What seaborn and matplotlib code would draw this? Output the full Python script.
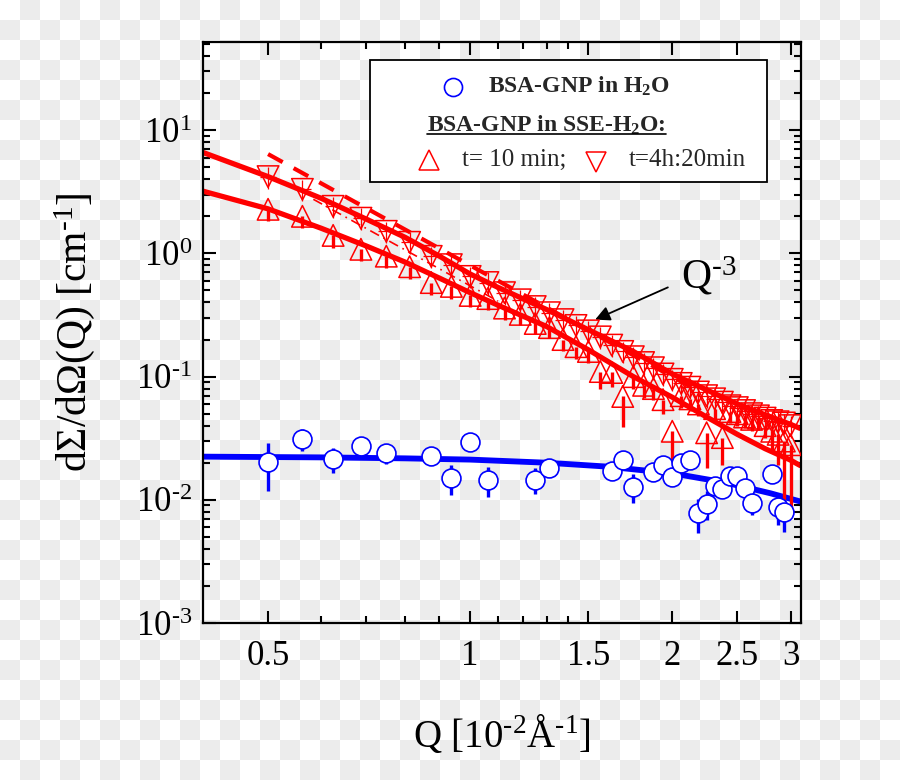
import numpy as np
import matplotlib
matplotlib.use("Agg")
import matplotlib.pyplot as plt
import seaborn as sns
from matplotlib.ticker import FixedLocator, NullFormatter


# DATA

q_h2o = [0.5, 0.5625, 0.625, 0.6875, 0.75, 0.875, 0.9375, 1.0, 1.0625, 1.25,
         1.3125, 1.625, 1.6875, 1.75, 1.875, 1.9375, 2.0, 2.0625, 2.125, 2.1875,
         2.25, 2.3125, 2.375, 2.4375, 2.5, 2.5625, 2.625, 2.8125, 2.875, 2.9375]
i_h2o = [0.0204, 0.0313, 0.0215, 0.0275, 0.0241, 0.0228, 0.0151, 0.0296, 0.0146, 0.0146,
         0.0182, 0.0172, 0.0211, 0.0128, 0.0169, 0.0193, 0.0154, 0.0200, 0.0211, 0.0078,
         0.0093, 0.0130, 0.0123, 0.0157, 0.0157, 0.0125, 0.0095, 0.0163, 0.0088, 0.0080]
e_h2o = [0.0087, 0.0065, 0.0050, 0.0030, 0.0045, 0.0030, 0.0042, 0.0020, 0.0040, 0.0035,
         0.0020, 0.0020, 0.0020, 0.0033, 0.0020, 0.0020, 0.0025, 0.0020, 0.0020, 0.0024,
         0.0025, 0.0020, 0.0020, 0.0020, 0.0020, 0.0020, 0.0020, 0.0025, 0.0025, 0.0025]

q_sse = [0.5, 0.5625, 0.625, 0.6875, 0.75, 0.8125, 0.875, 0.9375, 1.0, 1.0625,
         1.125, 1.1875, 1.25, 1.3125, 1.375, 1.4375, 1.5, 1.5625, 1.625, 1.6875,
         1.75, 1.8125, 1.875, 1.9375, 2.0, 2.0625, 2.125, 2.1875, 2.25, 2.3125,
         2.375, 2.4375, 2.5, 2.5625, 2.625, 2.6875, 2.75, 2.8125, 2.875, 2.9375, 3.0]

# t = 10 min (up triangles)
i_10min = [2.28, 2.0, 1.40, 1.08, 0.95, 0.78, 0.58, 0.54, 0.456, 0.43,
           0.36, 0.32, 0.27, 0.25, 0.20, 0.175, 0.16, 0.11, 0.108, 0.069,
           0.10, 0.085, 0.080, 0.065, 0.036, 0.070, 0.066, 0.060, 0.035, 0.055,
           0.032, 0.052, 0.050, 0.047, 0.045, 0.046, 0.040, 0.036, 0.034, 0.030, 0.028]
e_10min = [0.45, 0.40, 0.30, 0.22, 0.19, 0.16, 0.12, 0.11, 0.09, 0.085,
           0.07, 0.06, 0.05, 0.045, 0.04, 0.035, 0.03, 0.03, 0.025, 0.03,
           0.02, 0.018, 0.016, 0.015, 0.016, 0.014, 0.013, 0.012, 0.017, 0.011,
           0.013, 0.010, 0.010, 0.009, 0.009, 0.009, 0.008, 0.012, 0.015, 0.020, 0.020]

# t = 4h:20min (down triangles)
i_4h20 = [4.2, 3.31, 2.41, 1.93, 1.51, 1.23, 0.946, 0.81, 0.65, 0.58,
          0.48, 0.42, 0.37, 0.33, 0.29, 0.26, 0.235, 0.21, 0.18, 0.16,
          0.145, 0.13, 0.118, 0.105, 0.095, 0.088, 0.082, 0.075, 0.070, 0.066,
          0.062, 0.058, 0.056, 0.053, 0.050, 0.048, 0.046, 0.044, 0.043, 0.042, 0.040]
ey_4h20 = [0.85, 0.66, 0.48, 0.39, 0.30, 0.25, 0.19, 0.16, 0.13, 0.12,
           0.10, 0.085, 0.075, 0.066, 0.058, 0.052, 0.047, 0.042, 0.036, 0.032,
           0.029, 0.026, 0.024, 0.021, 0.019, 0.018, 0.016, 0.015, 0.014, 0.013,
           0.012, 0.012, 0.011, 0.011, 0.010, 0.010, 0.009, 0.009, 0.009, 0.008, 0.008]
ex_4h20 = [0.014, 0.016, 0.018, 0.019, 0.021, 0.023, 0.025, 0.026, 0.028, 0.030,
           0.032, 0.033, 0.035, 0.037, 0.039, 0.040, 0.042, 0.044, 0.046, 0.047,
           0.049, 0.051, 0.053, 0.054, 0.056, 0.058, 0.060, 0.061, 0.063, 0.065,
           0.067, 0.068, 0.070, 0.072, 0.074, 0.075, 0.077, 0.079, 0.081, 0.082, 0.084]

# fitted curves
q_fit_h2o = [0.4, 0.6, 0.8, 1.0, 1.3, 1.6, 2.0, 2.4, 2.8, 3.1]
i_fit_h2o = [0.0224, 0.0221, 0.0217, 0.0212, 0.0200, 0.0186, 0.0164, 0.0138, 0.0113, 0.0097]

q_fit_sse = [0.4, 0.5, 0.6, 0.7, 0.8, 0.9, 1.0, 1.1, 1.3, 1.5, 1.75, 2.0, 2.25, 2.5, 2.75, 3.0, 3.1]
i_fit_10min = [3.2, 2.3, 1.6, 1.15, 0.85, 0.63, 0.48, 0.38, 0.255, 0.165, 0.10, 0.068,
               0.047, 0.034, 0.026, 0.021, 0.019]
i_fit_4h20 = [6.6, 4.2, 2.8, 1.9, 1.35, 0.95, 0.68, 0.53, 0.35, 0.24, 0.16, 0.105,
              0.078, 0.060, 0.049, 0.041, 0.038]

# power-law guides
q_pow3 = [0.5, 2.2]
i_pow3 = [6.4, 0.075]
q_dashdot = [0.584, 1.1]
i_dashdot = [2.75, 0.41]

HY = "\u2010"  # short hyphen, as in the original superscripts
x_ticks = [0.5, 1, 1.5, 2, 2.5, 3]
x_ticklabels = ["0.5", "1", "1.5", "2", "2.5", "3"]
y_ticks = [1e-3, 1e-2, 1e-1, 1e0, 1e1]
y_ticklabels = ["$10^{%s3}$" % HY, "$10^{%s2}$" % HY, "$10^{%s1}$" % HY, "$10^{0}$", "$10^{1}$"]


# STYLE

sns.set_theme(style="ticks")
plt.rcParams["font.family"] = ["Liberation Serif", "DejaVu Serif"]
plt.rcParams["mathtext.fontset"] = "custom"
plt.rcParams["mathtext.rm"] = "Liberation Serif"
plt.rcParams["mathtext.it"] = "Liberation Serif:italic"
plt.rcParams["mathtext.bf"] = "Liberation Serif:bold"
plt.rcParams["mathtext.default"] = "regular"

RED = "#ff0000"
BLUE = "#0000ff"

fig = plt.figure(figsize=(9, 7.8), dpi=100)

# checkerboard background (transparency pattern of the source image)
rows, cols = np.indices((780, 900))
checker = np.where(((rows // 20) + (cols // 20)) % 2 == 1, 236, 255).astype(np.uint8)
fig.figimage(np.dstack([checker] * 3), xo=0, yo=0, origin="upper", zorder=-10)

ax = fig.add_axes([203 / 900, 1 - 623 / 780, 598 / 900, 581 / 780])
ax.set_facecolor("none")
ax.set_xscale("log")
ax.set_yscale("log")


# FIT LINES

sns.lineplot(x=q_fit_h2o, y=i_fit_h2o, ax=ax, color=BLUE, lw=4.2,
             estimator=None, sort=False, zorder=2)
sns.lineplot(x=q_fit_sse, y=i_fit_10min, ax=ax, color=RED, lw=3.8,
             estimator=None, sort=False, zorder=2)
sns.lineplot(x=q_fit_sse, y=i_fit_4h20, ax=ax, color=RED, lw=3.8,
             estimator=None, sort=False, zorder=2)
ax.plot(q_pow3, i_pow3, color=RED, lw=3, dashes=(4, 3), zorder=2)
ax.plot(q_dashdot, i_dashdot, color=RED, lw=1.2, dashes=(6, 3, 1, 3), zorder=2)


# DATA POINTS

ax.errorbar(q_h2o, i_h2o, yerr=e_h2o, fmt="none", ecolor=BLUE, elinewidth=2.4,
            capsize=0, zorder=3)
sns.scatterplot(x=q_h2o, y=i_h2o, ax=ax, marker="o", s=185, facecolor="white",
                edgecolor=BLUE, linewidth=1.2, zorder=4)

ax.errorbar(q_sse, i_10min, yerr=[e_10min, [0] * len(e_10min)], fmt="none",
            ecolor=RED, elinewidth=2.4, capsize=0, zorder=3)
sns.scatterplot(x=q_sse, y=i_10min, ax=ax, marker="^", s=240, facecolor="none",
                edgecolor=RED, linewidth=1.1, zorder=4)

ax.errorbar(q_sse, i_4h20, yerr=ey_4h20, xerr=ex_4h20, fmt="none",
            ecolor=RED, elinewidth=0.9, capsize=0, zorder=3)
sns.scatterplot(x=q_sse, y=i_4h20, ax=ax, marker="v", s=240, facecolor="none",
                edgecolor=RED, linewidth=1.1, zorder=4)


# AXES

ax.set_xlim(0.4, 3.11)
ax.set_ylim(1e-3, 52)

ax.xaxis.set_major_locator(FixedLocator(x_ticks))
ax.set_xticklabels(x_ticklabels)
ax.xaxis.set_minor_locator(FixedLocator([0.6, 0.7, 0.8, 0.9, 1.1, 1.2, 1.3, 1.4]))
ax.xaxis.set_minor_formatter(NullFormatter())
ax.yaxis.set_major_locator(FixedLocator(y_ticks))
ax.set_yticklabels(y_ticklabels)
ax.yaxis.set_minor_locator(matplotlib.ticker.LogLocator(base=10, subs=np.arange(2, 10)))
ax.yaxis.set_minor_formatter(NullFormatter())

ax.tick_params(which="both", direction="in", top=True, right=True, width=1.5,
               color="black", labelsize=25, labelcolor="black")
ax.tick_params(which="major", length=9)
ax.tick_params(which="minor", length=5)
ax.tick_params(axis="x", which="major", pad=12)
ax.tick_params(axis="y", which="major", pad=8)
for sp in ax.spines.values():
    sp.set_linewidth(1.6)
    sp.set_color("black")

ax.set_xlabel("Q [10$^{%s2}$Å$^{%s1}$]" % (HY, HY), fontsize=28, labelpad=29, color="black")
ax.set_ylabel("dΣ/dΩ(Q) [cm$^{%s1}$]" % HY, fontsize=30, labelpad=28, color="black")


# ANNOTATION

ax.annotate("", xy=(1.535, 0.29), xytext=(1.97, 0.53),
            arrowprops=dict(arrowstyle="-|>", color="black", lw=1.3,
                            mutation_scale=22, shrinkA=0, shrinkB=0))
ax.text(2.06, 0.66, "Q$^{%s3}$" % HY, fontsize=30, va="center", ha="left", color="black")


# LEGEND (drawn by hand, like the original)

box = matplotlib.patches.Rectangle((0.279, 0.759), 0.664, 0.21, transform=ax.transAxes,
                                   facecolor="white", edgecolor="black", lw=1.3, zorder=6)
ax.add_patch(box)
ax.plot([0.418], [0.923], transform=ax.transAxes, marker="o", ms=13, mfc="none",
        mec=BLUE, mew=1.2, ls="none", zorder=7)
ax.text(0.477, 0.923, "BSA-GNP in H$_2$O", transform=ax.transAxes, fontsize=17,
        fontweight="bold", va="center", ha="left", zorder=7)
t2 = ax.text(0.375, 0.846, "BSA-GNP in SSE-H$_2$O:", transform=ax.transAxes, fontsize=17,
             fontweight="bold", va="baseline", ha="left", zorder=7)
ax.plot([0.378], [0.797], transform=ax.transAxes, marker="^", ms=15, mfc="none",
        mec=RED, mew=1.1, ls="none", zorder=7)
ax.text(0.433, 0.797, "t= 10 min;", transform=ax.transAxes, fontsize=18,
        va="center", ha="left", zorder=7)
ax.plot([0.657], [0.794], transform=ax.transAxes, marker="v", ms=15, mfc="none",
        mec=RED, mew=1.1, ls="none", zorder=7)
ax.text(0.712, 0.797, "t=4h:20min", transform=ax.transAxes, fontsize=18,
        va="center", ha="left", zorder=7)

# underline of the second legend row
fig.canvas.draw()
bb = t2.get_window_extent().transformed(ax.transAxes.inverted())
ax.plot([bb.x0, bb.x1], [0.846 - 0.004, 0.846 - 0.004], transform=ax.transAxes,
        color="black", lw=1.2, zorder=7)

fig.savefig("out.png", dpi=100)
